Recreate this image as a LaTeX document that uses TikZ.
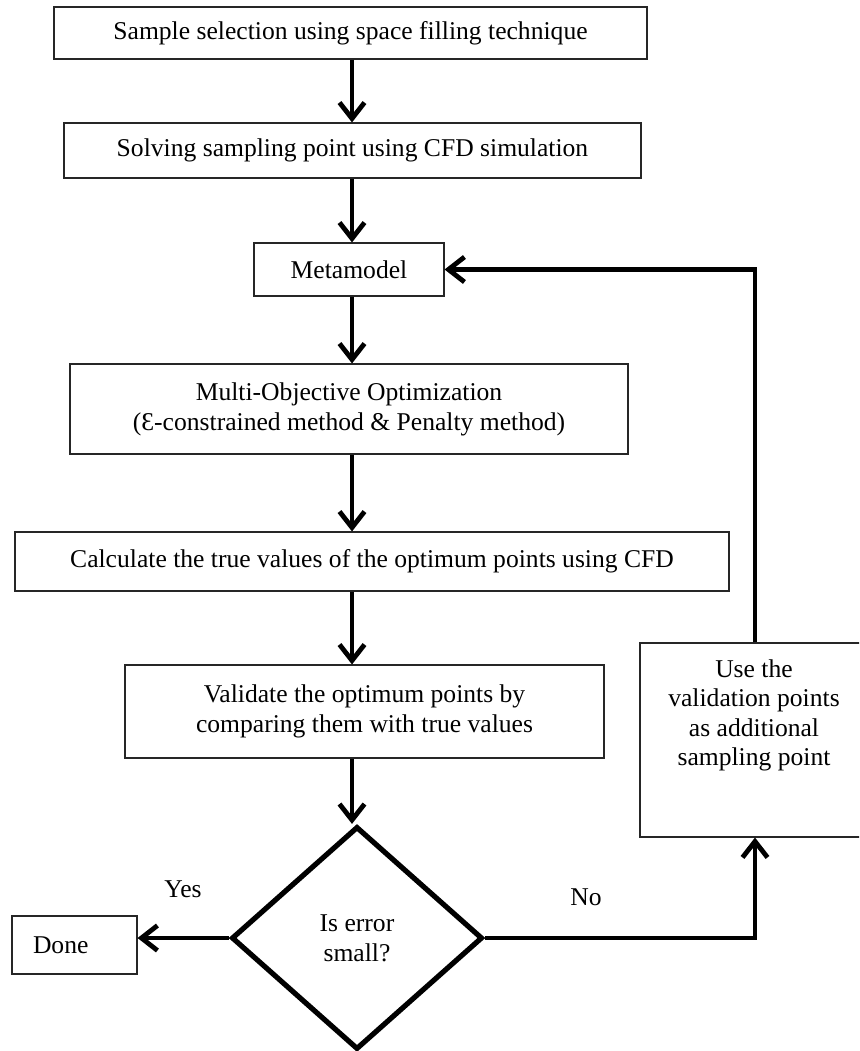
\documentclass[tikz,border=0pt]{standalone}
\usepackage{fontspec}
\setmainfont{Liberation Serif}
\usetikzlibrary{arrows.meta,shapes.geometric}
\begin{document}
\begin{tikzpicture}[x=1pt,y=-1pt,
  every node/.style={font=\fontsize{25.6}{30}\selectfont},
  box/.style={draw=black!85, line width=1.1pt, inner sep=0pt, align=center},
  decision/.style={draw=black, line width=5.2pt, shape=diamond, inner sep=0pt,
    minimum width=251pt, minimum height=223pt, align=center},
  flow/.style={line width=4.8pt, -{Straight Barb[length=16pt,width=25pt]}},
  lbl/.style={inner sep=0pt}]
\useasboundingbox (0,0) rectangle (859,1051);
\clip (0,0) rectangle (859,1051);

% common vertical axis of the main chain of steps
\coordinate (axis) at (352,0);

% process steps
\node[box, minimum width=593pt, minimum height=52pt] (s1) at (350.5,33)
  {Sample selection using space filling technique};
\node[box, minimum width=577pt, minimum height=55pt] (s2) at (352.5,150.5)
  {Solving sampling point using CFD simulation};
\node[box, minimum width=190pt, minimum height=53pt] (meta) at (349,269.5)
  {Metamodel};
\node[box, minimum width=558pt, minimum height=90pt] (moo) at (349,409)
  {Multi-Objective Optimization\\(Ɛ-constrained method \& Penalty method)};
\node[box, minimum width=714pt, minimum height=59pt] (calc) at (372,561.5)
  {Calculate the true values of the optimum points using CFD};
\node[box, minimum width=479pt, minimum height=93pt] (val) at (364.5,711.5)
  {Validate the optimum points by\\comparing them with true values};

% decision and its outcomes
\node[decision] (dec) at (357,938) {Is error\\small?};
\node[box, minimum height=58pt, text width=83pt, inner xsep=21pt, align=left]
  (done) at (74.5,945) {Done};
\node[box, minimum width=230pt, minimum height=194pt] (add) at (755,740) {};
\node[lbl, anchor=north, align=center, font=\fontsize{25.6}{29.3}\selectfont]
  (addtext) at (754,659.5)
  {Use the\\validation points\\as additional\\sampling point};

% main chain
\draw[flow] (s1.south -| axis) -- (s2.north -| axis);
\draw[flow] (s2.south -| axis) -- (meta.north -| axis);
\draw[flow] (meta.south -| axis) -- (moo.north -| axis);
\draw[flow] (moo.south -| axis) -- (calc.north -| axis);
\draw[flow] (calc.south -| axis) -- (val.north -| axis);
\draw[flow] (val.south -| axis) -- (dec.north -| axis);

% branches
\draw[flow] (dec.west) -- (dec.west -| done.east);
\draw[flow] (dec.east) -| (add.south);
\draw[flow] (add.north) |- (meta.east);

% branch labels
\node[lbl] (yes) at (183,889) {Yes};
\node[lbl] (no) at (586,897) {No};
\end{tikzpicture}
\end{document}
